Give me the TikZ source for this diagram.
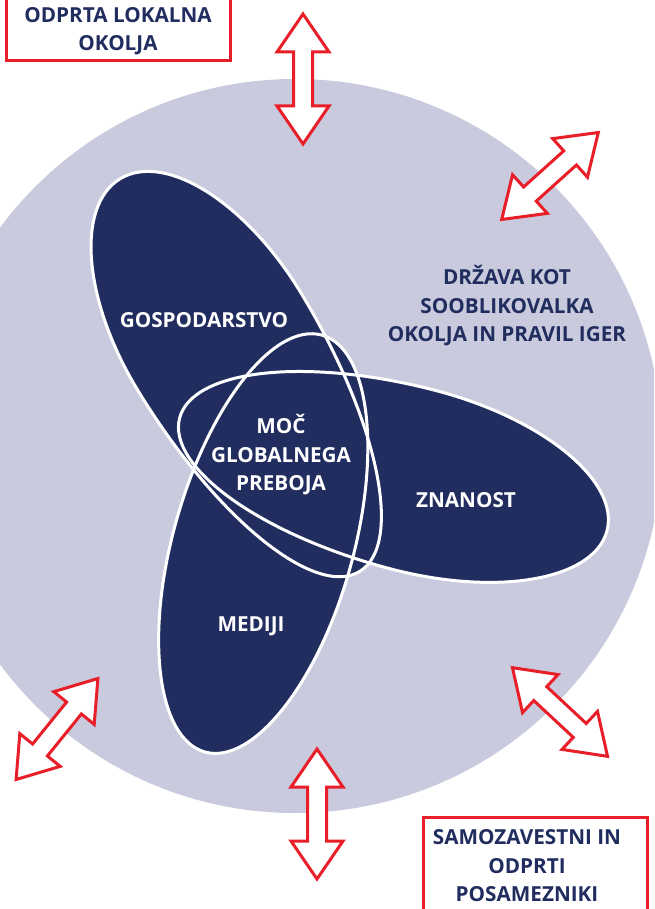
\documentclass[tikz,border=0pt]{standalone}
\usepackage{fontspec}
\setmainfont{Open Sans}
\definecolor{navy}{RGB}{33,45,95}
\definecolor{lav}{RGB}{201,202,221}
\definecolor{redc}{RGB}{232,30,40}
\tikzset{
  lbl/.style={font=\bfseries\fontsize{20.7}{28.5}\selectfont, align=center, text=navy, inner sep=0pt},
  wlbl/.style={lbl, text=white},
  petal/.style={fill=navy},
  petaledge/.style={draw=white, line width=3pt},
  redbox/.style={draw=redc, line width=3pt, fill=white},
  arrowline/.style={draw=redc, line width=3pt, fill=white, line join=miter},
  dblarrow/.pic={\path[arrowline] (-65,0) -- (-27,26) -- (-27,9.5) -- (27,9.5) -- (27,26) -- (65,0) -- (27,-26) -- (27,-9.5) -- (-27,-9.5) -- (-27,-26) -- cycle;}
}
% egg: style, centre, angle of blunt end, outer half length, inner half length, half width
\newcommand\petalegg[6]{%
  \path[#1, shift={(#2)}, rotate=#3] (0pt,#6) arc[start angle=90, end angle=-90, x radius=#4, y radius=#6]
    arc[start angle=270, end angle=90, x radius=#5, y radius=#6] -- cycle;}
\begin{document}
\begin{tikzpicture}[x=1pt,y=-1pt]
\useasboundingbox (0,0) rectangle (654,909);
\begin{scope}
  \clip (0,0) rectangle (654,909);
  \fill[lav] (295,446) circle[radius=367pt];
\end{scope}
% petals
\petalegg{petal}{219,341}{121.4}{190pt}{270pt}{95pt}
\petalegg{petal}{413.6,479.8}{-14.8}{200pt}{242pt}{92pt}
\petalegg{petal}{263,545}{254.3}{215pt}{218pt}{90pt}
\petalegg{petaledge}{219,341}{121.4}{190pt}{270pt}{95pt}
\petalegg{petaledge}{413.6,479.8}{-14.8}{200pt}{242pt}{92pt}
\petalegg{petaledge}{263,545}{254.3}{215pt}{218pt}{90pt}
% labels
\node[wlbl] (gos) at (204,320) {GOSPODARSTVO};
\node[wlbl] (zna) at (466,500) {ZNANOST};
\node[wlbl] (med) at (251,626) {MEDIJI};
\node[wlbl] (moc) at (281,455) {MOČ\\GLOBALNEGA\\PREBOJA};
\node[lbl] (drz) at (507,306) {DRŽAVA KOT\\SOOBLIKOVALKA\\OKOLJA IN PRAVIL IGER};
% boxes
\path[redbox] (6,-10) rectangle (230,61);
\node[lbl] (odp) at (118,31) {ODPRTA LOKALNA\\OKOLJA};
\path[redbox] (423,817) rectangle (647,920);
\node[lbl] (sam) at (527,866) {SAMOZAVESTNI IN\\ODPRTI\\POSAMEZNIKI};
% arrows
\pic[rotate=90] (a1) at (303,79) {dblarrow};
\pic[rotate=90] (a2) at (317,814) {dblarrow};
\pic[rotate=42] (a3) at (550,176) {dblarrow};
\pic[rotate=51] (a4) at (57,729) {dblarrow};
\pic[rotate=-43] (a5) at (560,712) {dblarrow};
\end{tikzpicture}
\end{document}
